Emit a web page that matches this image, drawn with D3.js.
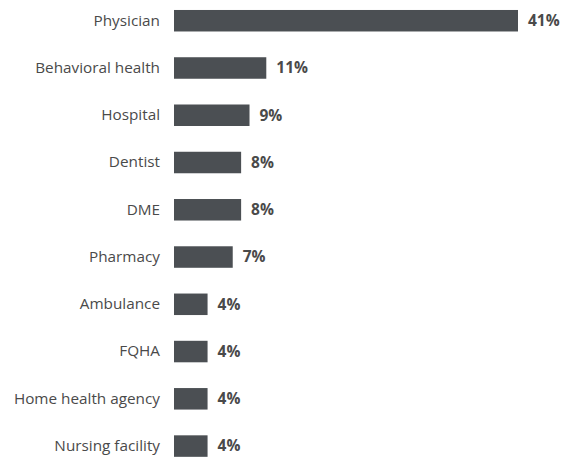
<!DOCTYPE html>
<html>
<head>
<meta charset="utf-8">
<script src="https://cdn.jsdelivr.net/npm/d3@7"></script>
<style>
  html, body { margin: 0; padding: 0; background: #fff; }
  svg { display: block; }
</style>
</head>
<body>
<div id="chart"></div>
<script>
// Share of items by provider type
const categories = ["Physician", "Behavioral health", "Hospital", "Dentist", "DME",
  "Pharmacy", "Ambulance", "FQHA", "Home health agency", "Nursing facility"];
const values = [41, 11, 9, 8, 8, 7, 4, 4, 4, 4];
const valueLabels = ["41%", "11%", "9%", "8%", "8%", "7%", "4%", "4%", "4%", "4%"];

const width = 568, height = 459;
const barColor = "#4b4f53";
const textColor = "#4a4a4a";

const svg = d3.select("#chart").append("svg")
  .attr("width", width).attr("height", height);

const x = d3.scaleLinear().domain([0, 41]).range([174, 518]);
const y = d3.scaleBand().domain(categories)
  .range([-2.9, 469.7]).paddingInner(0.545).paddingOuter(0.2725);

const rows = categories.map((c, i) => ({ c, v: values[i], label: valueLabels[i] }));

svg.selectAll("rect.bar").data(rows).join("rect")
  .attr("class", "bar")
  .attr("x", x(0))
  .attr("y", d => y(d.c))
  .attr("width", d => x(d.v) - x(0))
  .attr("height", y.bandwidth())
  .attr("fill", barColor);

// category axis on the left, no line or ticks
const yAxis = d3.axisLeft(y).tickSize(0).tickPadding(14);
const g = svg.append("g").attr("transform", `translate(${x(0)},0)`).call(yAxis);
g.select(".domain").remove();
g.selectAll("text")
  .attr("fill", textColor)
  .style("font-family", "'Open Sans', sans-serif")
  .style("font-size", "15.3px");

svg.selectAll("text.val").data(rows).join("text")
  .attr("class", "val")
  .attr("x", d => x(d.v) + 10)
  .attr("y", d => y(d.c) + y.bandwidth() / 2)
  .attr("dy", "0.35em")
  .attr("fill", textColor)
  .style("font-family", "'Open Sans', sans-serif")
  .style("font-weight", "700")
  .style("font-size", "15.5px")
  .text(d => d.label);
</script>
</body>
</html>
